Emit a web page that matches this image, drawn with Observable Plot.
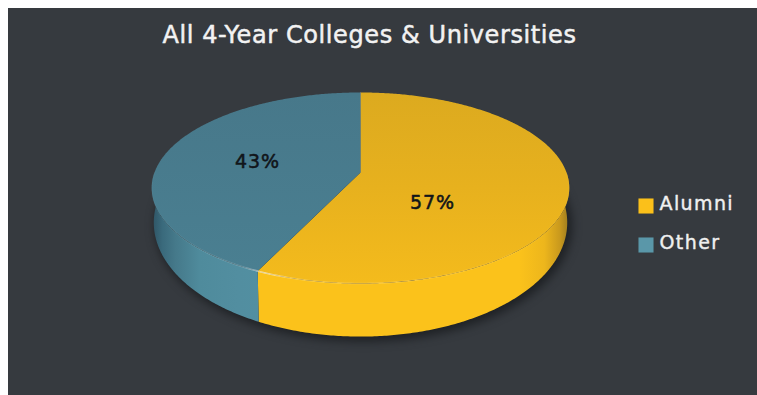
<!DOCTYPE html>
<html>
<head>
<meta charset="utf-8">
<script src="https://cdn.jsdelivr.net/npm/d3@7"></script>
<script src="https://cdn.jsdelivr.net/npm/@observablehq/plot@0.6"></script>
<style>
  html, body { margin: 0; padding: 0; background: #fff; overflow: hidden; }
  #chart { position: absolute; left: 8px; top: 8px; }
  #chart svg { display: block; }
  .spaced text { letter-spacing: 1.4px; }
  .values text { letter-spacing: 0.9px; }
  .heading text { letter-spacing: 0.6px; }
</style>
</head>
<body>
<div id="chart"></div>
<script>
// Share of presidents by background, all four-year institutions
const categories = ["Alumni", "Other"];
const shares = [57, 43];
const chartTitle = "All 4-Year Colleges & Universities";

// Panel size, and the perspective model of the disc
const panel = {width: 749, height: 387};
const k = 0.162;
const topRing = {cx: 360, cy: 172, rx: 206, ry: 93};
const baseRing = {cx: 360, cy: 203.6, rx: 204, ry: 111};

// Angle is clockwise from the back of the disc; r is the fraction of the radius
function project(ring, angle, r = 1) {
  const u = Math.sin(angle) * r;
  const v = -Math.cos(angle) * r;
  const p = 1 / (1 - k * v);
  return {x: ring.cx + ring.rx * u * p, y: ring.cy + ring.ry * v * p};
}
function arc(ring, a0, a1) {
  const n = Math.max(2, Math.ceil(Math.abs(a1 - a0) / 0.01));
  return d3.range(n + 1).map((i) => project(ring, a0 + (a1 - a0) * (i / n)));
}

const slices = d3.pie().sort(null)(shares).map((s, i) => ({
  category: categories[i],
  start: s.startAngle,
  end: s.endAngle
}));

// Wedges on the top face
const faces = slices.flatMap((s) =>
  [project(topRing, 0, 0), ...arc(topRing, s.start, s.end)].map((p) => ({...p, category: s.category}))
);

// Outer wall: only the half of the disc that faces the viewer
const frontStart = Math.PI / 2;
const frontEnd = Math.PI * 1.5;
const walls = slices.flatMap((s) => {
  const a0 = Math.max(s.start, frontStart);
  const a1 = Math.min(s.end, frontEnd);
  return [...arc(topRing, a0, a1), ...arc(baseRing, a1, a0)].map((p) => ({...p, category: s.category}));
});

const shadow = arc(baseRing, 0, Math.PI * 2);
const rim = arc(topRing, frontStart, frontEnd);
const seam = [project(topRing, 0, 0), project(topRing, 0)];

const faceFill = {Alumni: "url(#faceAlumni)", Other: "url(#faceOther)"};
const wallFill = {Alumni: "url(#wallAlumni)", Other: "url(#wallOther)"};
const swatchFill = {Alumni: "#fbc01a", Other: "#5a97a9"};
const labelAt = {Alumni: [432, 202], Other: [257, 161]};
const legendAt = {Alumni: 204, Other: 243};

const gradients = () => {
  const stops = (list) => list.map(([o, c, a = 1]) =>
    `<stop offset="${o}" stop-color="${c}" stop-opacity="${a}"/>`).join("");
  const defs = d3.create("svg:defs");
  defs.html(`
    <linearGradient id="faceAlumni" x1="0" y1="0" x2="0" y2="1">${stops([[0, "#dcaa1f"], [0.5, "#e7b11e"], [1, "#f4bb1c"]])}</linearGradient>
    <linearGradient id="faceOther" x1="0" y1="0" x2="0" y2="1">${stops([[0, "#47788a"], [1, "#4a7f91"]])}</linearGradient>
    <linearGradient id="wallAlumni" x1="0" y1="0" x2="1" y2="0">${stops([[0, "#fbc21b"], [0.84, "#fbc21b"], [0.92, "#edb61c"], [0.97, "#c9991d"], [1, "#9a7a20"]])}</linearGradient>
    <linearGradient id="wallOther" x1="0" y1="0" x2="1" y2="0">${stops([[0, "#2e5363"], [0.1, "#3a6a7c"], [0.22, "#45798a"], [0.45, "#4f8b9c"], [0.8, "#528ea0"], [1, "#528fa1"]])}</linearGradient>
    <linearGradient id="rimGlow" gradientUnits="userSpaceOnUse" x1="151" y1="0" x2="569" y2="0">${stops([[0, "#fff", 0.03], [0.2, "#fff", 0.18], [0.25, "#fff", 0.6], [0.33, "#fff", 0.22], [0.75, "#fff", 0.12], [1, "#fff", 0.02]])}</linearGradient>
  `);
  return defs.node();
};

const chart = Plot.plot({
  width: panel.width,
  height: panel.height,
  margin: 0,
  style: {background: "#363a3f"},
  x: {domain: [8, 8 + panel.width], range: [0, panel.width], axis: null},
  y: {domain: [8, 8 + panel.height], range: [0, panel.height], axis: null},
  marks: [
    gradients,
    // soft contact shadow under the disc
    Plot.line(shadow, {x: (d) => d.x + 3, y: (d) => d.y + 3, fill: "#17191c", stroke: "#17191c", strokeWidth: 4, fillOpacity: 0.75, strokeOpacity: 0.6, imageFilter: "blur(5px)", curve: "linear"}),
    // outer wall
    Plot.line(walls, {x: "x", y: "y", z: "category", fill: (d) => wallFill[d.category], stroke: null, curve: "linear"}),
    // top face
    Plot.line(faces, {x: "x", y: "y", z: "category", fill: (d) => faceFill[d.category], stroke: null, curve: "linear"}),
    Plot.line(seam, {x: "x", y: "y", stroke: "#fff", strokeOpacity: 0.12, strokeWidth: 1}),
    // highlight along the front edge
    Plot.line(rim, {x: "x", y: "y", stroke: "url(#rimGlow)", strokeWidth: 1.6, imageFilter: "blur(0.6px)", curve: "linear"}),
    // value labels
    Plot.text(slices, {
      x: (d) => labelAt[d.category][0],
      y: (d) => labelAt[d.category][1],
      text: (d) => `${shares[categories.indexOf(d.category)]}%`,
      fill: "#11151a",
      stroke: "#11151a",
      strokeWidth: 0.5,
      fontSize: 19,
      fontFamily: "DejaVu Sans",
      className: "values"
    }),
    // legend
    Plot.dot(categories, {
      x: () => 645.5,
      y: (d) => legendAt[d] + 1.5,
      symbol: "square",
      r: 8.5,
      fill: (d) => swatchFill[d],
      stroke: null
    }),
    Plot.text(categories, {
      x: () => 659,
      y: (d) => legendAt[d] - 1,
      text: (d) => d,
      textAnchor: "start",
      fill: "#f0f0f0",
      stroke: "#f0f0f0",
      strokeWidth: 0.4,
      fontSize: 19,
      fontFamily: "DejaVu Sans",
      className: "spaced"
    }),
    // heading
    Plot.text([chartTitle], {
      x: () => 369,
      y: () => 35,
      text: (d) => d,
      fill: "#f2f2f2",
      stroke: "#f2f2f2",
      strokeWidth: 0.5,
      fontSize: 24,
      fontFamily: "DejaVu Sans",
      className: "heading"
    })
  ]
});
document.getElementById("chart").append(chart);
</script>
</body>
</html>
